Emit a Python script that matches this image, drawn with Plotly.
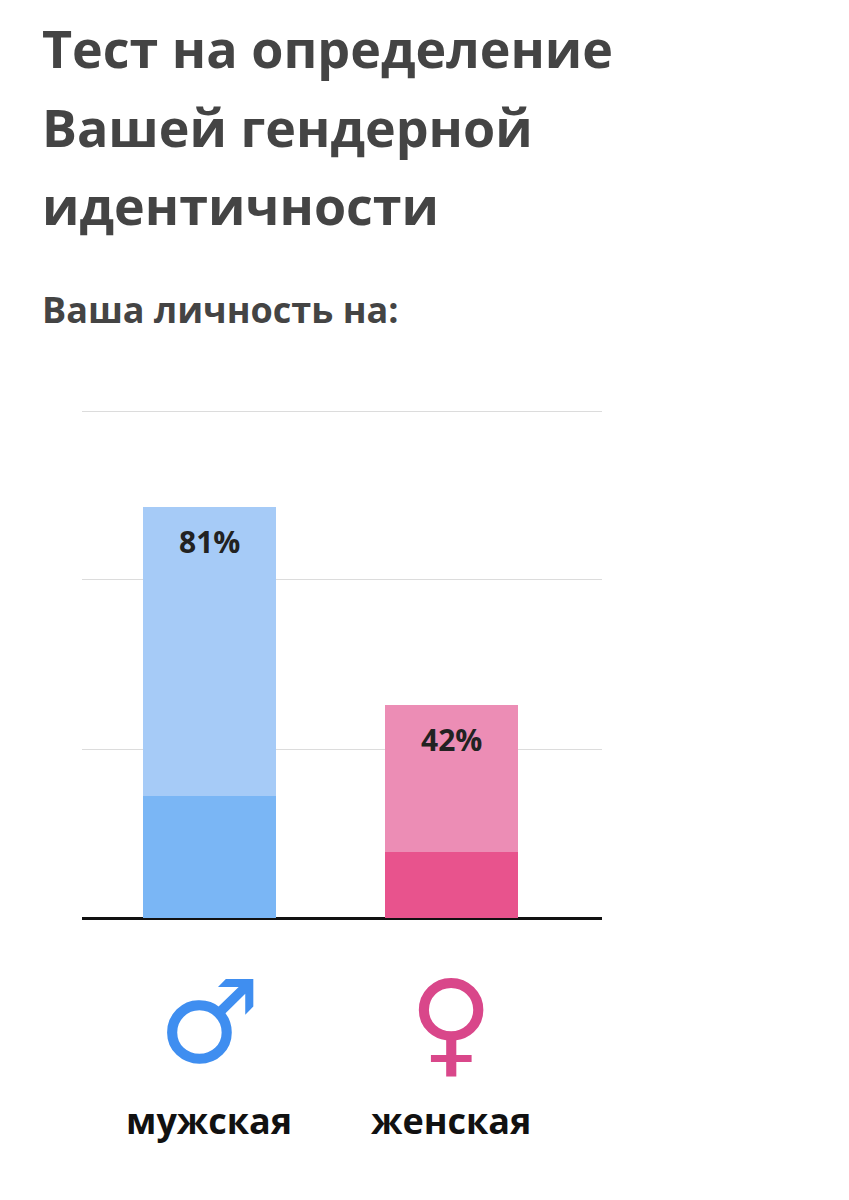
import plotly.graph_objects as go

categories = ["мужская", "женская"]
values = [81, 42]
base_part = [24, 13]          # solid lower section of each bar
symbols = ["♂", "♀"]
labels = ["81%", "42%"]
title_lines = ["Тест на определение", "Вашей гендерной", "идентичности"]

x_pos = [0.245, 0.71]
top_colors = ["#a6cbf7", "#ec8db5"]
low_colors = ["#7ab6f5", "#e8538d"]
sym_colors = ["#3f8ef0", "#d9478a"]

W, H, OFF = 849, 1200, 8   # page adds an 8px offset


def px(x):
    return (x - OFF) / W


def py(y):
    return 1 - (y - OFF) / H


fig = go.Figure()
fig.add_bar(x=x_pos, y=base_part, width=0.256, marker=dict(color=low_colors, line_width=0),
            hoverinfo="skip")
fig.add_bar(x=x_pos, y=[v - b for v, b in zip(values, base_part)], width=0.256,
            marker=dict(color=top_colors, line_width=0), hoverinfo="skip")

for x, v, t in zip(x_pos, values, labels):
    fig.add_annotation(x=x, y=v, text="<b>" + t + "</b>", showarrow=False, yanchor="top", yshift=-12,
                       font=dict(family="Open Sans", size=30, color="#222"))

for x, s, c, cat in zip(x_pos, symbols, sym_colors, categories):
    cx = px(82 + x * 520)
    fig.add_annotation(x=cx, y=py(1022), xref="paper", yref="paper", xanchor="center",
                       yanchor="middle", text=s, showarrow=False,
                       font=dict(family="DejaVu Sans", size=115, color=c))
    fig.add_annotation(x=cx, y=py(1120), xref="paper", yref="paper", xanchor="center",
                       yanchor="middle", text="<b>" + cat + "</b>", showarrow=False,
                       font=dict(family="Open Sans", size=36, color="#111"))

for i, line in enumerate(title_lines):
    fig.add_annotation(x=px(40), y=py(48 + i * 78), xref="paper", yref="paper", xanchor="left",
                       yanchor="middle", align="left", text="<b>" + line + "</b>", showarrow=False,
                       font=dict(family="Open Sans", size=52, color="#444"))
fig.add_annotation(x=px(40), y=py(283), xref="paper", yref="paper", xanchor="left",
                   yanchor="top", align="left", text="<b>Ваша личность на:</b>", showarrow=False,
                   font=dict(family="Open Sans", size=36, color="#444"))

fig.update_layout(
    width=W, height=H, margin=dict(l=0, r=0, t=0, b=0),
    paper_bgcolor="white", plot_bgcolor="white", barmode="stack", showlegend=False,
    xaxis=dict(domain=[px(82), px(602)], range=[0, 1], visible=False),
    yaxis=dict(domain=[py(918), py(405)], range=[0, 101.2],
               tickvals=[33.3, 66.7, 100], showticklabels=False, gridcolor="#dcdcdc",
               zeroline=True, zerolinecolor="#111", zerolinewidth=3),
)

fig.write_html("out.html")
